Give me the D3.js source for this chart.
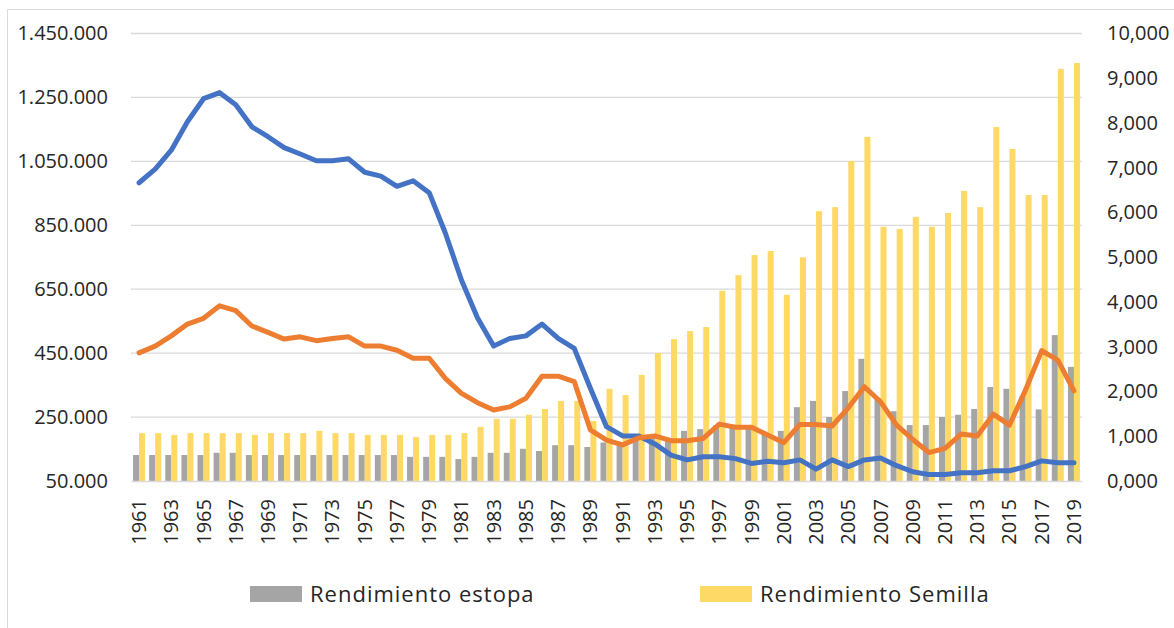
<!DOCTYPE html>
<html>
<head>
<meta charset="utf-8">
<script src="https://cdn.jsdelivr.net/npm/d3@7"></script>
<style>
  body { margin: 0; background: #fff; }
  svg { display: block; }
</style>
</head>
<body>
<svg id="chart"></svg>
<script>
const years = d3.range(1961, 2020);

// barras (eje derecho)
const estopa = [
  0.58, 0.58, 0.58, 0.58, 0.58, 0.63, 0.63, 0.58, 0.58, 0.58,
  0.58, 0.58, 0.58, 0.58, 0.58, 0.58, 0.58, 0.54, 0.54, 0.54,
  0.49, 0.54, 0.63, 0.63, 0.72, 0.67, 0.80, 0.80, 0.76, 0.86,
  0.85, 0.90, 0.98, 0.95, 1.12, 1.16, 1.25, 1.20, 1.18, 1.05,
  1.12, 1.65, 1.79, 1.43, 2.01, 2.73, 1.85, 1.56, 1.25, 1.25,
  1.43, 1.48, 1.61, 2.10, 2.06, 1.90, 1.60, 3.26, 2.55
];
const semilla = [
  1.07, 1.07, 1.03, 1.07, 1.07, 1.07, 1.07, 1.03, 1.07, 1.07,
  1.07, 1.12, 1.07, 1.07, 1.03, 1.03, 1.03, 0.98, 1.03, 1.03,
  1.07, 1.21, 1.39, 1.39, 1.48, 1.61, 1.79, 1.79, 1.34, 2.06,
  1.92, 2.37, 2.86, 3.17, 3.35, 3.44, 4.25, 4.60, 5.05, 5.14,
  4.16, 5.00, 6.03, 6.12, 7.15, 7.69, 5.68, 5.63, 5.90, 5.68,
  5.99, 6.48, 6.12, 7.91, 7.42, 6.39, 6.39, 9.21, 9.34
];

// lineas (eje izquierdo)
const azul = [
  983000, 1026000, 1085000, 1174000, 1246000, 1265000, 1227000, 1158000, 1127000, 1093000,
  1073000, 1052000, 1052000, 1058000, 1016000, 1004000, 972000, 989000, 952000, 826000,
  679000, 560000, 472000, 496000, 504000, 541000, 496000, 465000, 340000, 220000,
  191000, 191000, 166000, 131000, 116000, 126000, 126000, 120000, 105000, 112000,
  107000, 116000, 87000, 116000, 95000, 116000, 122000, 98000, 79000, 70000,
  70000, 76000, 76000, 82000, 82000, 95000, 113000, 107000, 107000
];
const naranja = [
  451000, 472000, 504000, 541000, 559000, 598000, 583000, 535000, 515000, 494000,
  501000, 489000, 496000, 501000, 472000, 472000, 459000, 434000, 434000, 371000,
  324000, 295000, 272000, 282000, 309000, 378000, 378000, 361000, 210000, 178000,
  163000, 185000, 191000, 176000, 176000, 183000, 228000, 218000, 218000, 194000,
  170000, 227000, 227000, 222000, 279000, 345000, 298000, 225000, 180000, 139000,
  152000, 197000, 191000, 259000, 225000, 335000, 458000, 428000, 332000
];

const leftTicks = [50000, 250000, 450000, 650000, 850000, 1050000, 1250000, 1450000];
const rightTicks = [0, 1, 2, 3, 4, 5, 6, 7, 8, 9, 10];
const legendItems = [
  { name: 'Rendimiento estopa', color: '#a5a5a5', x: 250 },
  { name: 'Rendimiento Semilla', color: '#ffd966', x: 700 }
];

const width = 1174;
const height = 628;
const margin = { top: 33.5, bottom: 147, left: 131, right: 92 };
const innerWidth = width - margin.left - margin.right;
const innerHeight = height - margin.top - margin.bottom;
const font = '"Open Sans", "Noto Sans", sans-serif';

const es = d3.formatLocale({ decimal: ',', thousands: '.', grouping: [3], currency: ['', ' €'] });

const svg = d3.select('#chart')
  .attr('width', width)
  .attr('height', height)
  .attr('font-family', font);

// marco del grafico (solo se ven los bordes izquierdo y superior)
svg.append('path')
  .attr('d', `M7.5,${height}V9.5H${width}`)
  .attr('fill', 'none')
  .attr('stroke', '#d9d9d9');

const g = svg.append('g')
  .attr('transform', `translate(${margin.left}, ${margin.top})`);

const x0 = d3.scaleBand().domain(years).range([0, innerWidth]);
const x1 = d3.scaleBand().domain(['estopa', 'semilla'])
  .range([0, x0.bandwidth()]).paddingOuter(0.34);
const yLeft = d3.scaleLinear().domain([50000, 1450000]).range([innerHeight, 0]);
const yRight = d3.scaleLinear().domain([0, 10]).range([innerHeight, 0]);

// rejilla
g.append('g')
  .selectAll('line')
  .data(leftTicks.slice(1))
  .enter().append('line')
    .attr('x1', 0).attr('x2', innerWidth)
    .attr('y1', d => yLeft(d)).attr('y2', d => yLeft(d))
    .attr('stroke', '#d9d9d9')
    .attr('stroke-width', 1.3);

// barras
const groups = g.selectAll('.year')
  .data(years)
  .enter().append('g')
    .attr('class', 'year')
    .attr('transform', d => `translate(${x0(d)}, 0)`);

groups.append('rect')
  .attr('x', x1('estopa'))
  .attr('width', x1.bandwidth())
  .attr('y', (d, i) => yRight(estopa[i]))
  .attr('height', (d, i) => innerHeight - yRight(estopa[i]))
  .attr('fill', '#a5a5a5');

groups.append('rect')
  .attr('x', x1('semilla'))
  .attr('width', x1.bandwidth())
  .attr('y', (d, i) => yRight(semilla[i]))
  .attr('height', (d, i) => innerHeight - yRight(semilla[i]))
  .attr('fill', '#ffd966');

// eje x
const xAxis = g.append('g')
  .attr('class', 'axis axis--x')
  .attr('transform', `translate(0, ${innerHeight})`)
  .call(d3.axisBottom(x0)
          .tickValues(years.filter((d, i) => i % 2 === 0))
          .tickSize(0)
        )
  .attr('font-family', font)
  .attr('font-size', 20);
xAxis.select('.domain')
  .attr('stroke', '#d9d9d9')
  .attr('stroke-width', 1.5);
xAxis.selectAll('text')
  .attr('fill', '#262626')
  .attr('transform', 'rotate(-90)')
  .attr('text-anchor', 'end')
  .attr('x', -18)
  .attr('y', 0)
  .attr('dy', '0.35em');

// ejes y
const yAxisL = g.append('g')
  .attr('class', 'axis axis--y')
  .call(d3.axisLeft(yLeft)
          .tickValues(leftTicks)
          .tickSize(0)
          .tickPadding(23)
          .tickFormat(es.format(',.0f'))
        )
  .attr('font-family', font)
  .attr('font-size', 20);
yAxisL.select('.domain').remove();
yAxisL.selectAll('text').attr('fill', '#262626');

const yAxisR = g.append('g')
  .attr('class', 'axis axis--y2')
  .attr('transform', `translate(${innerWidth}, 0)`)
  .call(d3.axisRight(yRight)
          .tickValues(rightTicks)
          .tickSize(0)
          .tickPadding(25)
          .tickFormat(es.format('.3f'))
        )
  .attr('font-family', font)
  .attr('font-size', 20);
yAxisR.select('.domain').remove();
yAxisR.selectAll('text').attr('fill', '#262626');

// lineas
const line = data => d3.line()
  .x((d, i) => x0(years[i]) + x0.bandwidth() / 2)
  .y(d => yLeft(d))(data);

g.append('path')
  .attr('d', line(azul))
  .attr('fill', 'none')
  .attr('stroke', '#4472c4')
  .attr('stroke-width', 5)
  .attr('stroke-linejoin', 'round')
  .attr('stroke-linecap', 'round');

g.append('path')
  .attr('d', line(naranja))
  .attr('fill', 'none')
  .attr('stroke', '#ed7d31')
  .attr('stroke-width', 5)
  .attr('stroke-linejoin', 'round')
  .attr('stroke-linecap', 'round');

// leyenda
const legend = svg.append('g')
  .attr('class', 'legend')
  .selectAll('g')
  .data(legendItems)
  .enter().append('g')
    .attr('transform', d => `translate(${d.x}, 586)`);

legend.append('rect')
  .attr('width', 52)
  .attr('height', 16)
  .attr('fill', d => d.color);

legend.append('text')
  .attr('x', 60)
  .attr('y', 16)
  .attr('font-size', 22)
  .attr('letter-spacing', 1)
  .attr('fill', '#262626')
  .text(d => d.name);
</script>
</body>
</html>
